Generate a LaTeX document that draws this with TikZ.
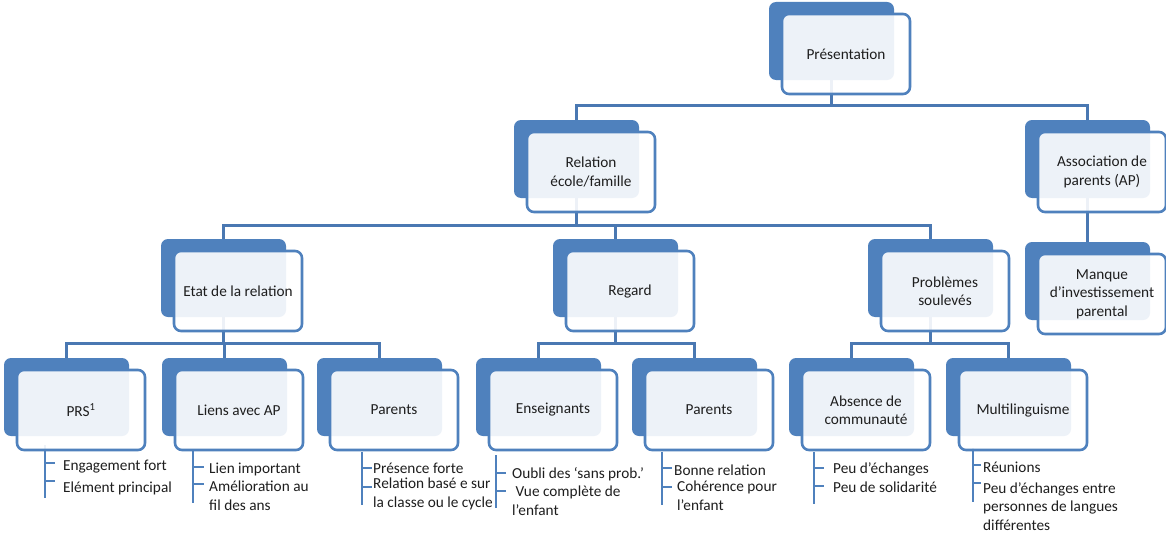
\documentclass[tikz,border=0pt]{standalone}
\usepackage{fontspec}
\setmainfont{Carlito}
\usetikzlibrary{backgrounds}

\definecolor{accent}{HTML}{4F81BD}
\definecolor{wire}{HTML}{4A78B2}
\definecolor{ink}{HTML}{1E1E1E}

\newcommand\boxfont{\fontsize{15.3pt}{18.5pt}\selectfont}
\newcommand\itemfont{\fontsize{15.3pt}{18.5pt}\selectfont}

\tikzset{
  backbox/.style={fill=accent, draw=none, rounded corners=7pt,
    minimum width=125pt, minimum height=78pt, inner sep=0pt},
  frontbox/.style={draw=accent, line width=2.6pt, fill=white, fill opacity=0.9,
    text opacity=1, rounded corners=7pt, minimum width=128pt, minimum height=80pt,
    inner sep=2pt, align=center, text=ink, font=\boxfont},
  conn/.style={draw=wire, line width=3pt},
  listline/.style={draw=accent, line width=1.4pt},
  % base anchor sits on the last line of a multi-line item
  item/.style={anchor=base west, inner sep=0pt, align=left, text=ink, font=\itemfont},
}

% dark tab behind, light card in front; #2,#3 = top-left corner of the tab
\newcommand\orgbox[4]{%
  \node[backbox] (#1b) at (#2+62.5,#3+39) {};
  \node[frontbox] (#1) at (#2+77,#3+52) {#4};}

\begin{document}
\begin{tikzpicture}[x=1pt,y=-1pt]
\useasboundingbox (0,0) rectangle (1166,535);

% boxes
\orgbox{pres}{769}{2}{Présentation}
\orgbox{rel}{514}{120}{Relation\\école/famille}
\orgbox{ass}{1025}{120}{Association de\\parents (AP)}
\orgbox{man}{1025}{242}{Manque\\d’investissement\\parental}
\orgbox{etat}{161}{239}{Etat de la relation}
\orgbox{reg}{553}{239}{Regard}
\orgbox{prob}{868}{239}{Problèmes\\soulevés}
\orgbox{prs}{4}{358}{PRS\textsuperscript{1}}
\orgbox{liens}{162}{358}{Liens avec AP}
\orgbox{parA}{317}{358}{Parents}
\orgbox{ens}{476}{358}{Enseignants}
\orgbox{parB}{632}{358}{Parents}
\orgbox{abs}{789}{358}{Absence de\\communauté}
\orgbox{multi}{946}{358}{Multilinguisme}

% bus levels
\coordinate (lvlA) at (0,105);
\coordinate (lvlB) at (0,225);
\coordinate (lvlC) at (0,343);

% list spines
\coordinate (prsT) at (45,445);   \coordinate (prsE) at (45,498);
\coordinate (liensT) at (193,449); \coordinate (liensE) at (193,503);
\coordinate (parAT) at (362,452); \coordinate (parAE) at (362,505);
\coordinate (ensT) at (496,455);  \coordinate (ensE) at (496,508);
\coordinate (parBT) at (662,452); \coordinate (parBE) at (662,505);
\coordinate (absT) at (814,452);  \coordinate (absE) at (814,504);
\coordinate (multiT) at (973,448); \coordinate (multiE) at (973,502);

\begin{scope}[on background layer]
  \fill[white] (0,0) rectangle (1166,535);
  % tree connectors
  \draw[conn] (presb.south) -- (presb.south |- lvlA) -| (relb.north);
  \draw[conn] (presb.south |- lvlA) -| (assb.north);
  \draw[conn] (assb.south) -- (manb.north);
  \draw[conn] (relb.south) -- (relb.south |- lvlB) -| (etatb.north);
  \draw[conn] (relb.south |- lvlB) -| (regb.north);
  \draw[conn] (relb.south |- lvlB) -| (probb.north);
  \draw[conn] (etatb.south) -- (etatb.south |- lvlC) -| (prsb.north);
  \draw[conn] (etatb.south |- lvlC) -| (liensb.north);
  \draw[conn] (etatb.south |- lvlC) -| (parAb.north);
  \draw[conn] (regb.south) -- (regb.south |- lvlC) -| (ensb.north);
  \draw[conn] (regb.south |- lvlC) -| (parBb.north);
  \draw[conn] (probb.south) -- (probb.south |- lvlC) -| (absb.north);
  \draw[conn] (probb.south |- lvlC) -| (multib.north);
  % list spines
  \foreach \l in {prs,liens,parA,ens,parB,abs,multi}
    \draw[listline] (\l T) -- (\l E);
\end{scope}

% bullet ticks
\draw[listline] (45,463) -- (55,463);   \draw[listline] (45,481) -- (55,481);
\draw[listline] (193,467) -- (204,467); \draw[listline] (193,484) -- (204,484);
\draw[listline] (362,468) -- (372,468); \draw[listline] (362,487) -- (372,487);
\draw[listline] (496,473) -- (506,473); \draw[listline] (496,491) -- (506,491);
\draw[listline] (662,468) -- (672,468); \draw[listline] (662,487) -- (672,487);
\draw[listline] (814,468) -- (824,468); \draw[listline] (814,486) -- (824,486);
\draw[listline] (973,465) -- (981,465); \draw[listline] (973,483) -- (981,483);

% list texts
\node[item] (prsA) at (63,470) {Engagement fort};
\node[item] (prsB) at (63,492) {Elément principal};
\node[item] (liensA) at (209,473) {Lien important};
\node[item] (liensB) at (209,510) {Amélioration au\\fil des ans};
\node[item] (parAA) at (373,473) {Présence forte};
\node[item] (parAB) at (373,507) {Relation basé e sur\\la classe ou le cycle};
\node[item] (ensA) at (512,478) {Oubli des ‘sans prob.’};
\node[item] (ensB) at (512,515) {\ Vue complète de\\l’enfant};
\node[item] (parBA) at (674,475) {Bonne relation};
\node[item] (parBB) at (677,510) {Cohérence pour\\l’enfant};
\node[item] (absA) at (833,473) {Peu d’échanges};
\node[item] (absB) at (833,492) {Peu de solidarité};
\node[item] (multiA) at (983,472) {Réunions};
\node[item] (multiB) at (983,530) {Peu d’échanges entre\\personnes de langues\\différentes};
\end{tikzpicture}
\end{document}
